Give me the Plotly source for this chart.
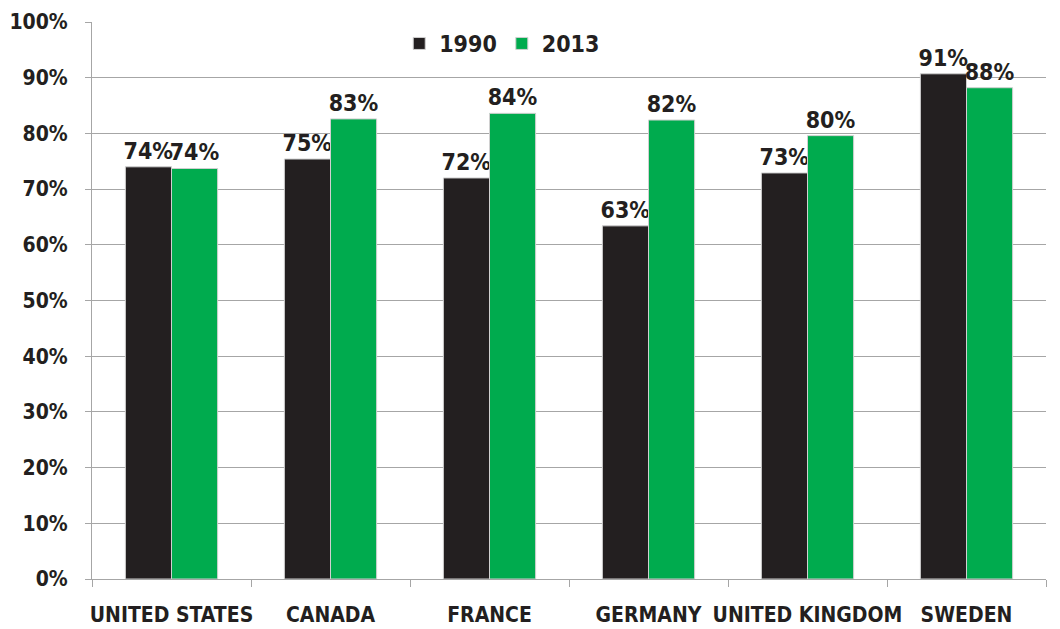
import plotly.graph_objects as go

countries = ["UNITED STATES", "CANADA", "FRANCE", "GERMANY", "UNITED KINGDOM", "SWEDEN"]
v1990 = [74.0, 75.4, 72.0, 63.4, 72.9, 90.7]
v2013 = [73.7, 82.6, 83.6, 82.4, 79.6, 88.2]
ytick_vals = [0, 10, 20, 30, 40, 50, 60, 70, 80, 90, 100]
ytick_text = [f"{v}%" for v in ytick_vals]

FONT = "DejaVu Sans Condensed, Liberation Sans Narrow, sans-serif"
DARK = "#231f20"
GREEN = "#00ab4e"

fig = go.Figure()
for name, vals, col in [("1990", v1990, DARK), ("2013", v2013, GREEN)]:
    fig.add_trace(go.Bar(
        name=name, x=countries, y=vals,
        marker=dict(color=col, line=dict(color="#d0d0d0", width=1)),
        texttemplate="%{y:.0f}%",
        textposition="outside",
        constraintext="none",
        textfont=dict(family=FONT, size=23, color=DARK, weight="bold"),
        cliponaxis=False,
    ))

fig.update_layout(
    width=1060, height=629,
    margin=dict(l=84, r=22, t=14, b=58, autoexpand=False),
    paper_bgcolor="white", plot_bgcolor="white",
    barmode="group", bargap=0.42, bargroupgap=0,
    font=dict(family=FONT, color=DARK, weight="bold"),
    legend=dict(
        orientation="h", x=0.43, y=1.0, xanchor="center", yanchor="top",
        font=dict(family=FONT, size=23, color=DARK, weight="bold"),
        bgcolor="rgba(0,0,0,0)", itemwidth=30, tracegroupgap=0,
    ),
)
fig.update_yaxes(
    range=[0, 100], tickmode="array", tickvals=ytick_vals, ticktext=ytick_text,
    showgrid=True, gridcolor="#a6a6a6", gridwidth=1,
    showline=True, linecolor="#a6a6a6", linewidth=1,
    ticks="outside", ticklen=6, tickcolor="#a6a6a6",
    ticklabelstandoff=13,
    tickfont=dict(family=FONT, size=21, color=DARK, weight="bold"),
    zeroline=False, automargin=False,
)
fig.update_xaxes(
    showline=True, linecolor="#a6a6a6", linewidth=1,
    ticks="outside", tickson="boundaries", ticklen=7, tickcolor="#a6a6a6",
    ticklabelstandoff=17, tickangle=0,
    tickfont=dict(family=FONT, size=21, color=DARK, weight="bold"),
    automargin=False,
)

fig.write_html("out.html")
